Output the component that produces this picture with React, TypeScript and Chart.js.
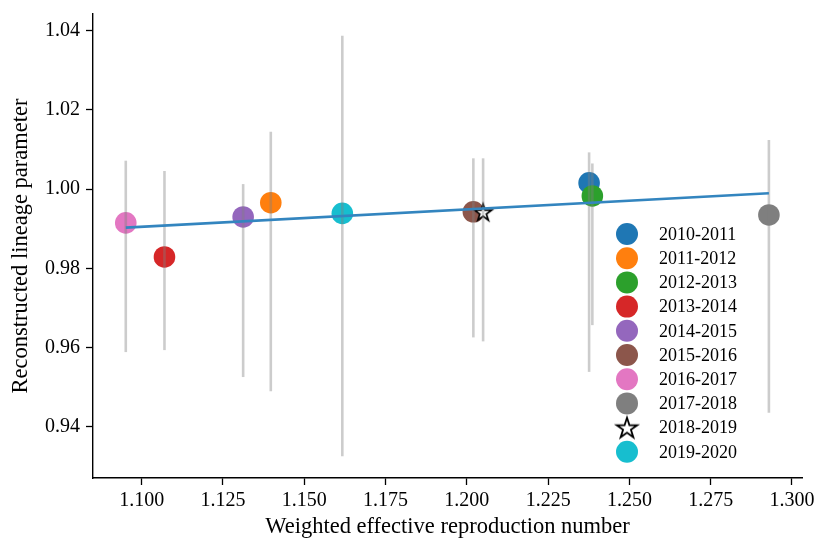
import { useEffect, useRef } from "react";
import { Chart, registerables } from "chart.js";

Chart.register(...registerables);

// seasons and their colours (matplotlib tab10)
const seasons = [
  "2010-2011",
  "2011-2012",
  "2012-2013",
  "2013-2014",
  "2014-2015",
  "2015-2016",
  "2016-2017",
  "2017-2018",
  "2018-2019",
  "2019-2020",
];
const seasonColors = [
  "#1f77b4",
  "#ff7f0e",
  "#2ca02c",
  "#d62728",
  "#9467bd",
  "#8c564b",
  "#e377c2",
  "#7f7f7f",
  "#000000",
  "#17becf",
];
const starSeason = "2018-2019";

// values
const reproNumber = [1.2376, 1.1397, 1.2386, 1.107, 1.1312, 1.202, 1.0951, 1.2929, 1.205, 1.1617];
const lineageParam = [1.0016, 0.9966, 0.9983, 0.9829, 0.993, 0.9943, 0.9915, 0.9935, 0.9942, 0.9939];
const lineageLow = [0.9539, 0.949, 0.9657, 0.9594, 0.9526, 0.9626, 0.9589, 0.9436, 0.9616, 0.9326];
const lineageHigh = [1.0093, 1.0145, 1.0065, 1.0046, 1.0013, 1.0078, 1.0072, 1.0124, 1.0078, 1.0387];

// fitted line end points
const fitX = [1.0951, 1.2929];
const fitY = [0.9903, 0.999];

const xTicks = [1.1, 1.125, 1.15, 1.175, 1.2, 1.225, 1.25, 1.275, 1.3];
const yTicks = [0.94, 0.96, 0.98, 1.0, 1.02, 1.04];

const FONT = '"Liberation Serif", "Times New Roman", serif';

function makeStar(radius: number, lineWidth: number) {
  const size = Math.ceil(radius * 2 + lineWidth * 2 + 4);
  const c = document.createElement("canvas");
  c.width = size;
  c.height = size;
  const ctx = c.getContext("2d")!;
  const cx = size / 2;
  const cy = size / 2 + radius * 0.08;
  ctx.beginPath();
  for (let k = 0; k < 10; k++) {
    const r = k % 2 === 0 ? radius : radius * 0.382;
    const a = -Math.PI / 2 + (k * Math.PI) / 5;
    const px = cx + r * Math.cos(a);
    const py = cy + r * Math.sin(a);
    if (k === 0) ctx.moveTo(px, py);
    else ctx.lineTo(px, py);
  }
  ctx.closePath();
  ctx.fillStyle = "#ffffff";
  ctx.fill();
  ctx.lineJoin = "miter";
  ctx.lineWidth = lineWidth;
  ctx.strokeStyle = "#000000";
  ctx.stroke();
  return c;
}

const App = () => {
  const canvasRef = useRef<HTMLCanvasElement | null>(null);
  const chartRef = useRef<Chart | null>(null);

  useEffect(() => {
    document.body.style.margin = "0";
    if (!canvasRef.current) return;
    const ctx = canvasRef.current.getContext("2d");
    if (!ctx) return;

    const plotStar = makeStar(9, 1.7);
    const legendStar = makeStar(10.8, 1.8);

    const legendPlugin = {
      id: "seasonLegend",
      afterDraw(chart: Chart) {
        const c = chart.ctx;
        const area = chart.chartArea;
        const markerX = area.left + 534;
        const textX = area.left + 566;
        const top = area.top + 220;
        const step = 24.2;
        c.save();
        c.font = `18px ${FONT}`;
        c.textBaseline = "middle";
        c.textAlign = "left";
        seasons.forEach((s, i) => {
          const y = top + i * step;
          if (s === starSeason) {
            c.drawImage(legendStar, markerX - legendStar.width / 2, y - legendStar.height / 2);
          } else {
            c.beginPath();
            c.arc(markerX, y, 11, 0, Math.PI * 2);
            c.fillStyle = seasonColors[i];
            c.fill();
          }
          c.fillStyle = "#000000";
          c.fillText(s, textX, y + 1);
        });
        c.restore();
      },
    };

    const errorBars = seasons.map((s, i) => ({
      type: "line" as const,
      label: s + " range",
      data: [
        { x: reproNumber[i], y: lineageLow[i] },
        { x: reproNumber[i], y: lineageHigh[i] },
      ],
      borderColor: "rgba(128,128,128,0.4)",
      borderWidth: 2.6,
      pointRadius: 0,
      order: 5,
    }));

    const points = seasons.map((s, i) => ({
      type: "scatter" as const,
      label: s,
      data: [{ x: reproNumber[i], y: lineageParam[i] }],
      backgroundColor: s === starSeason ? "rgba(0,0,0,0)" : seasonColors[i],
      borderWidth: 0,
      pointRadius: s === starSeason ? 10 : 10.8,
      pointHoverRadius: s === starSeason ? 10 : 10.8,
      pointStyle: s === starSeason ? plotStar : "circle",
      order: 20 - i,
    }));

    const fitLine = {
      type: "line" as const,
      label: "fit",
      data: fitX.map((x, i) => ({ x, y: fitY[i] })),
      borderColor: "#3385bf",
      borderWidth: 2.6,
      pointRadius: 0,
      order: 0,
    };

    chartRef.current = new Chart(ctx, {
      type: "scatter",
      data: {
        datasets: [fitLine, ...errorBars, ...points] as any,
      },
      plugins: [legendPlugin],
      options: {
        responsive: true,
        maintainAspectRatio: false,
        animation: false,
        layout: { padding: { top: 14, right: 29, left: 0, bottom: 0 } },
        plugins: {
          legend: { display: false },
          tooltip: { enabled: false },
        },
        scales: {
          x: {
            type: "linear",
            min: 1.08502,
            max: 1.30308,
            afterFit: (scale: any) => {
              scale.height = 75;
              scale.paddingLeft = 0;
              scale.paddingRight = 0;
            },
            afterBuildTicks: (scale: any) => {
              scale.ticks = xTicks.map((v) => ({ value: v }));
            },
            grid: {
              drawOnChartArea: false,
              drawTicks: true,
              tickLength: 7,
              tickWidth: 1.3,
              tickColor: "#000000",
            },
            border: { display: true, color: "#000000", width: 1.4 },
            ticks: {
              padding: 4,
              color: "#000000",
              font: { family: FONT, size: 20 },
              maxRotation: 0,
              autoSkip: false,
              callback: (v: any) => Number(v).toFixed(3),
            },
            title: {
              display: true,
              text: "Weighted effective reproduction number",
              color: "#000000",
              font: { family: FONT, size: 22.5 },
              padding: { top: 0, bottom: 12 },
            },
          },
          y: {
            type: "linear",
            min: 0.92712,
            max: 1.04422,
            afterFit: (scale: any) => {
              scale.width = 93;
              scale.paddingTop = 0;
              scale.paddingBottom = 0;
            },
            afterBuildTicks: (scale: any) => {
              scale.ticks = yTicks.map((v) => ({ value: v }));
            },
            grid: {
              drawOnChartArea: false,
              drawTicks: true,
              tickLength: 7,
              tickWidth: 1.3,
              tickColor: "#000000",
            },
            border: { display: true, color: "#000000", width: 1.4 },
            ticks: {
              padding: 6,
              color: "#000000",
              font: { family: FONT, size: 20 },
              autoSkip: false,
              callback: (v: any) => Number(v).toFixed(2),
            },
            title: {
              display: true,
              text: "Reconstructed lineage parameter",
              color: "#000000",
              font: { family: FONT, size: 22.5 },
              padding: { top: 8, bottom: 0 },
            },
          },
        },
      },
    });

    return () => {
      chartRef.current?.destroy();
    };
  }, []);

  return (
    <div style={{ width: 831, height: 553, position: "relative" }}>
      <canvas ref={canvasRef} />
    </div>
  );
};

export default App;
